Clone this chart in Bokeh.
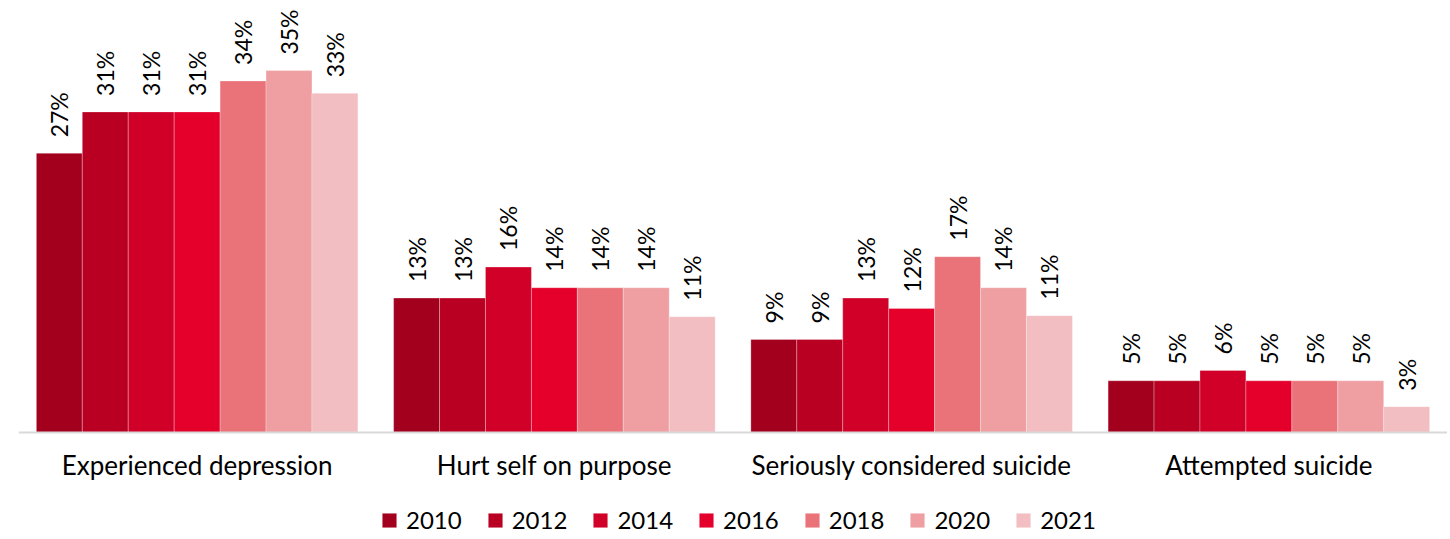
import math
from bokeh.plotting import figure
from bokeh.models import ColumnDataSource, FactorRange, Range1d, Legend, LegendItem
from bokeh.transform import dodge
from bokeh.core.properties import value
from bokeh.embed import file_html
from bokeh.resources import INLINE

categories = ["Experienced depression", "Hurt self on purpose",
              "Seriously considered suicide", "Attempted suicide"]
years = ["2010", "2012", "2014", "2016", "2018", "2020", "2021"]

# bar heights (%) per year, in category order
v2010 = [27, 13, 9, 5]
v2012 = [31, 13, 9, 5]
v2014 = [31, 16, 13, 6]
v2016 = [31, 14, 12, 5]
v2018 = [34, 14, 17, 5]
v2020 = [35, 14, 14, 5]
v2021 = [32.8, 11.2, 11.3, 2.5]

# printed labels per year
l2010 = ["27%", "13%", "9%", "5%"]
l2012 = ["31%", "13%", "9%", "5%"]
l2014 = ["31%", "16%", "13%", "6%"]
l2016 = ["31%", "14%", "12%", "5%"]
l2018 = ["34%", "14%", "17%", "5%"]
l2020 = ["35%", "14%", "14%", "5%"]
l2021 = ["33%", "11%", "11%", "3%"]

colors = ["#A3001E", "#BA0022", "#D00028", "#E4002B", "#EA7379", "#EF9FA2", "#F2BEC1"]

values = [v2010, v2012, v2014, v2016, v2018, v2020, v2021]
labels = [l2010, l2012, l2014, l2016, l2018, l2020, l2021]

FONT = "Lato"

p = figure(x_range=FactorRange(*categories, range_padding=0),
           y_range=Range1d(-10.35, 41.78),
           frame_width=1429, frame_height=539,
           min_border_left=18, min_border_right=0, min_border_top=0, min_border_bottom=0,
           output_backend="svg", toolbar_location=None, background_fill_color="white",
           border_fill_color="white")
p.outline_line_color = None
p.xgrid.grid_line_color = None
p.ygrid.grid_line_color = None
p.yaxis.visible = False

group_w = 0.9
bw = group_w / len(years)
items = []
for i, (yr, vals, labs, col) in enumerate(zip(years, values, labels, colors)):
    off = -group_w / 2 + (i + 0.5) * bw
    src = ColumnDataSource(dict(cat=categories, v=vals, lab=labs))
    r = p.vbar(x=dodge("cat", off, range=p.x_range), top="v", width=bw, source=src,
               fill_color=col, line_color="white", line_alpha=0.35, line_width=0.8)
    p.text(x=dodge("cat", off, range=p.x_range), y="v", text="lab", source=src,
           angle=math.pi / 2, text_align="left", text_baseline="middle",
           x_offset=0, y_offset=-16, text_font=value(FONT), text_font_size="23px",
           text_color="#000000")
    items.append(LegendItem(label=yr, renderers=[r]))

ax = p.xaxis[0]
ax.fixed_location = 0
ax.axis_line_color = "#D9D9D9"
ax.axis_line_width = 2
ax.major_tick_line_color = None
ax.minor_tick_line_color = None
ax.major_label_text_font = FONT
ax.major_label_text_font_size = "26px"
ax.major_label_text_color = "#000000"
ax.major_label_standoff = 11

legend = Legend(items=items, orientation="horizontal", location=(362, 5),
                glyph_width=18, glyph_height=18, label_standoff=8, spacing=24,
                label_text_font=FONT, label_text_font_size="24px",
                label_text_color="#000000", border_line_color=None,
                background_fill_alpha=0, padding=0, margin=0)
p.add_layout(legend, "center")

open("out.html", "w").write(file_html(p, INLINE))
